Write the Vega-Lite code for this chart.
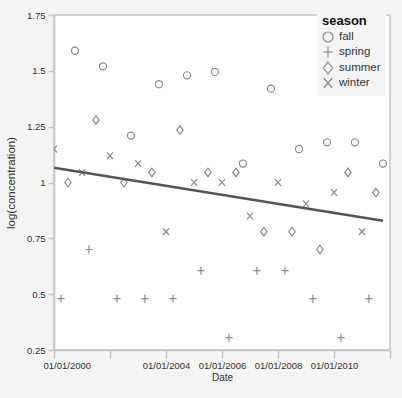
{
  "$schema": "https://vega.github.io/schema/vega-lite/v6.json",
  "width": 336,
  "height": 335,
  "autosize": {"type": "none"},
  "padding": {"left": 54, "top": 15, "right": 12, "bottom": 48},
  "background": "#f4f4f4",
  "config": {
    "font": "Liberation Sans, Arial, sans-serif",
    "view": {"fill": "white", "stroke": "#c4c4c4", "strokeWidth": 1.5},
    "axis": {
      "grid": false,
      "domainColor": "#c4c4c4",
      "domainWidth": 1.5,
      "tickColor": "#c4c4c4",
      "tickWidth": 1.5,
      "labelColor": "#333",
      "labelFontSize": 9.5,
      "titleColor": "#333",
      "titleFontWeight": "normal"
    }
  },
  "datasets": {
    "obs": [
      {"date": "2000-01-01T00:00", "season": "winter", "value": 1.15},
      {"date": "2000-04-01T00:00", "season": "spring", "value": 0.48},
      {"date": "2000-07-01T00:00", "season": "summer", "value": 1.0},
      {"date": "2000-10-01T00:00", "season": "fall", "value": 1.59},
      {"date": "2001-01-01T00:00", "season": "winter", "value": 1.045},
      {"date": "2001-04-01T00:00", "season": "spring", "value": 0.7},
      {"date": "2001-07-01T00:00", "season": "summer", "value": 1.28},
      {"date": "2001-10-01T00:00", "season": "fall", "value": 1.52},
      {"date": "2002-01-01T00:00", "season": "winter", "value": 1.12},
      {"date": "2002-04-01T00:00", "season": "spring", "value": 0.48},
      {"date": "2002-07-01T00:00", "season": "summer", "value": 1.0},
      {"date": "2002-10-01T00:00", "season": "fall", "value": 1.21},
      {"date": "2003-01-01T00:00", "season": "winter", "value": 1.085},
      {"date": "2003-04-01T00:00", "season": "spring", "value": 0.48},
      {"date": "2003-07-01T00:00", "season": "summer", "value": 1.045},
      {"date": "2003-10-01T00:00", "season": "fall", "value": 1.44},
      {"date": "2004-01-01T00:00", "season": "winter", "value": 0.78},
      {"date": "2004-04-01T00:00", "season": "spring", "value": 0.48},
      {"date": "2004-07-01T00:00", "season": "summer", "value": 1.235},
      {"date": "2004-10-01T00:00", "season": "fall", "value": 1.48},
      {"date": "2005-01-01T00:00", "season": "winter", "value": 1.0},
      {"date": "2005-04-01T00:00", "season": "spring", "value": 0.605},
      {"date": "2005-07-01T00:00", "season": "summer", "value": 1.045},
      {"date": "2005-10-01T00:00", "season": "fall", "value": 1.495},
      {"date": "2006-01-01T00:00", "season": "winter", "value": 1.0},
      {"date": "2006-04-01T00:00", "season": "spring", "value": 0.305},
      {"date": "2006-07-01T00:00", "season": "summer", "value": 1.045},
      {"date": "2006-10-01T00:00", "season": "fall", "value": 1.085},
      {"date": "2007-01-01T00:00", "season": "winter", "value": 0.85},
      {"date": "2007-04-01T00:00", "season": "spring", "value": 0.605},
      {"date": "2007-07-01T00:00", "season": "summer", "value": 0.78},
      {"date": "2007-10-01T00:00", "season": "fall", "value": 1.42},
      {"date": "2008-01-01T00:00", "season": "winter", "value": 1.0},
      {"date": "2008-04-01T00:00", "season": "spring", "value": 0.605},
      {"date": "2008-07-01T00:00", "season": "summer", "value": 0.78},
      {"date": "2008-10-01T00:00", "season": "fall", "value": 1.15},
      {"date": "2009-01-01T00:00", "season": "winter", "value": 0.905},
      {"date": "2009-04-01T00:00", "season": "spring", "value": 0.48},
      {"date": "2009-07-01T00:00", "season": "summer", "value": 0.7},
      {"date": "2009-10-01T00:00", "season": "fall", "value": 1.18},
      {"date": "2010-01-01T00:00", "season": "winter", "value": 0.955},
      {"date": "2010-04-01T00:00", "season": "spring", "value": 0.305},
      {"date": "2010-07-01T00:00", "season": "summer", "value": 1.045},
      {"date": "2010-10-01T00:00", "season": "fall", "value": 1.18},
      {"date": "2011-01-01T00:00", "season": "winter", "value": 0.78},
      {"date": "2011-04-01T00:00", "season": "spring", "value": 0.48},
      {"date": "2011-07-01T00:00", "season": "summer", "value": 0.955},
      {"date": "2011-10-01T00:00", "season": "fall", "value": 1.085}
    ],
    "fit": [
      {"date": "2000-01-01T00:00", "value": 1.066},
      {"date": "2011-10-01T00:00", "value": 0.829}
    ]
  },
  "encoding": {
    "x": {
      "field": "date",
      "type": "temporal",
      "title": "Date",
      "scale": {"domain": [{"year": 2000, "month": 1, "date": 1}, {"year": 2012, "month": 1, "date": 1}]},
      "axis": {
        "values": [{"year": 2000}, {"year": 2002}, {"year": 2004}, {"year": 2006}, {"year": 2008}, {"year": 2010}, {"year": 2012}],
        "labelExpr": "year(datum.value) == 2002 || year(datum.value) == 2012 ? '' : timeFormat(datum.value, '%m/%d/%Y')",
        "labelOverlap": false,
        "labelFlush": true,
        "labelFlushOffset": 11,
        "tickSize": 8,
        "labelPadding": 2,
        "titleFontSize": 10,
        "titlePadding": 3
      }
    },
    "y": {
      "field": "value",
      "type": "quantitative",
      "title": "log(concentration)",
      "scale": {"domain": [0.25, 1.75], "nice": false, "zero": false},
      "axis": {
        "values": [0.25, 0.5, 0.75, 1, 1.25, 1.5, 1.75],
        "format": ".2~f",
        "tickSize": 6,
        "labelPadding": 3,
        "titleFontSize": 11.5,
        "titlePadding": 10
      }
    }
  },
  "layer": [
    {
      "data": {"name": "obs"},
      "mark": {"type": "point", "filled": false, "color": "#8a8a8a", "strokeWidth": 1.2, "size": 50, "clip": true, "opacity": 1},
      "encoding": {
        "shape": {
          "field": "season",
          "type": "nominal",
          "scale": {
            "domain": ["fall", "spring", "summer", "winter"],
            "range": [
              "circle",
              "M-1,0L1,0M0,-1.15L0,1.15",
              "M0,-1.2L0.9,0L0,1.2L-0.9,0Z",
              "M-0.85,-0.95L0.85,0.95M-0.85,0.95L0.85,-0.95"
            ]
          },
          "legend": {
            "title": "season",
            "orient": "none",
            "legendX": 263,
            "legendY": -5,
            "fillColor": "#f4f4f4",
            "padding": 5,
            "titleFontSize": 13,
            "titleFontWeight": "bold",
            "titleColor": "#111",
            "titlePadding": 3,
            "labelFontSize": 11.5,
            "labelColor": "#333",
            "labelOffset": 5,
            "symbolSize": 100,
            "symbolStrokeWidth": 1.2,
            "rowPadding": -2,
            "labelExpr": "datum.label + '\u00a0\u00a0\u00a0\u00a0\u00a0\u00a0\u00a0\u00a0\u00a0\u00a0\u00a0\u00a0\u00a0\u00a0\u00a0\u00a0\u00a0\u00a0\u00a0\u00a0'"
          }
        }
      }
    },
    {
      "data": {"name": "fit"},
      "mark": {"type": "line", "color": "#555555", "strokeWidth": 2.5},
      "encoding": {}
    }
  ]
}
